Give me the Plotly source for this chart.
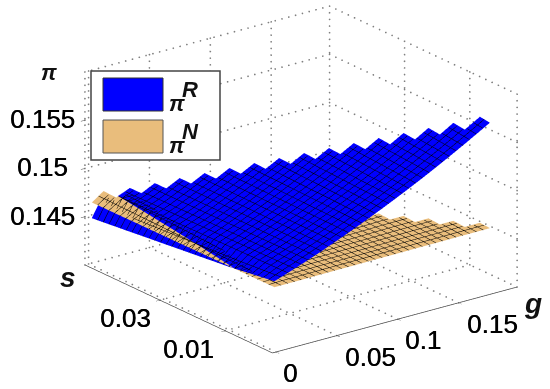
import plotly.graph_objects as go

# axis ranges and ticks
G_RANGE = [-0.003, 0.198]
S_RANGE = [-0.0045, 0.053]
Z_RANGE = [0.14, 0.16]
G_TICKS = [0, 0.05, 0.1, 0.15]
G_LABELS = ["0", "0.05", "0.1", "0.15"]
S_TICKS = [0.01, 0.03]
S_LABELS = ["0.01", "0.03"]
Z_TICKS = [0.145, 0.15, 0.155]
Z_LABELS = ["0.145", "0.15", "0.155"]
Z_GRID = [0.14, 0.145, 0.15, 0.155, 0.16]

G_VALUES = [0, .0110625, .022125, .0331875, .04425, .0553125, .066375, .0774375, .0885,
            .0995625, .110625, .1216875, .13275, .1438125, .154875, .1659375, .177]
S_VALUES = [-.004, -.0005, .003, .0065, .01, .0135, .017, .0205, .024, .0275, .031, .0345,
            .038, .0415, .045, .0485, .052]

# profit, 1e-5 units, one list per g value, running along s
PI_R_BY_G = [
 [14725,14707,14689,14671,14653,14640,14626,14612,14599,14585,14571,14558,14544,14530,14517,14503,14490],
 [14774,14772,14770,14768,14766,14764,14762,14760,14758,14756,14754,14752,14750,14748,14746,14745,14743],
 [14825,14823,14822,14820,14819,14817,14816,14814,14813,14811,14810,14808,14807,14805,14804,14803],
 [14878,14878,14877,14877,14876,14876,14876,14875,14875,14874,14874,14874,14873,14873,14872],
 [14934,14935,14935,14936,14937,14937,14938,14939,14939,14940,14941,14941,14942,14943],
 [14992,14994,14995,14997,14999,15001,15002,15004,15006,15007,15009,15011,15013],
 [15052,15055,15058,15060,15063,15066,15069,15072,15074,15077,15080,15083],
 [15114,15118,15122,15126,15130,15133,15137,15141,15145,15149,15153],
 [15178,15183,15188,15193,15198,15203,15208,15213,15218,15223],
 [15244,15250,15256,15262,15269,15275,15281,15287,15293],
 [15312,15319,15327,15334,15341,15349,15356,15363],
 [15382,15391,15399,15408,15416,15425,15433],
 [15455,15465,15475,15484,15494,15504],
 [15530,15541,15552,15563,15574],
 [15607,15620,15632,15645],
 [15686,15701,15716],
 [15767,15782],
]
PI_N_BY_G = [
 [14663,14662,14662,14661,14661,14660,14659,14659,14658,14657,14657,14656,14656,14655,14654,14654,14653],
 [14664,14669,14675,14680,14686,14691,14696,14702,14707,14713,14718,14723,14729,14734,14740,14745,14750],
 [14664,14670,14675,14681,14686,14692,14697,14703,14709,14714,14720,14725,14731,14736,14742,14748],
 [14665,14671,14676,14682,14687,14693,14699,14704,14710,14716,14721,14727,14733,14738,14744],
 [14666,14672,14678,14683,14689,14695,14701,14706,14712,14718,14724,14729,14735,14741],
 [14667,14673,14679,14684,14690,14696,14702,14708,14713,14719,14725,14731,14737],
 [14667,14673,14679,14685,14691,14698,14704,14710,14716,14722,14728,14734],
 [14668,14674,14681,14687,14693,14700,14706,14712,14719,14725,14731],
 [14669,14675,14682,14688,14695,14701,14708,14714,14721,14727],
 [14669,14676,14683,14690,14697,14704,14711,14718,14725],
 [14670,14677,14685,14692,14699,14707,14714,14721],
 [14671,14679,14687,14695,14703,14711,14719],
 [14671,14679,14688,14696,14704,14712],
 [14672,14680,14688,14696,14704],
 [14673,14681,14689,14697],
 [14673,14681,14689],
 [14674,14682],
]
BLUE = "#0000ff"
TAN = "#e9bd7c"
FONT = "Liberation Sans"
W, H = 550, 389


def grid(columns):
    n = len(S_VALUES)
    return [[(c[j] * 1e-5 if j < len(c) else None) for c in columns] for j in range(n)]


def surface(columns, color):
    mesh = dict(show=True, color="#000000", width=2, highlight=False)
    dg = (G_VALUES[1] - G_VALUES[0]) / 2
    ds = (S_VALUES[1] - S_VALUES[0]) / 2
    return go.Surface(
        x=G_VALUES, y=S_VALUES, z=grid(columns),
        colorscale=[[0, color], [1, color]], showscale=False, hoverinfo="skip",
        lighting=dict(ambient=1, diffuse=0, specular=0, roughness=1, fresnel=0),
        contours=dict(
            x=dict(start=G_VALUES[0], end=G_VALUES[-1], size=dg, **mesh),
            y=dict(start=S_VALUES[0], end=S_VALUES[-1], size=ds, **mesh),
            z=dict(show=False),
        ),
    )


fig = go.Figure()

# dotted box and grid lines, drawn as rows of small dots
gx, gy, gz = [], [], []
def seg(a, b, n):
    for k in range(n + 1):
        gx.append(a[0] + (b[0] - a[0]) * k / n)
        gy.append(a[1] + (b[1] - a[1]) * k / n)
        gz.append(a[2] + (b[2] - a[2]) * k / n)

g0, g1 = G_RANGE
s0, s1 = S_RANGE
z0, z1 = Z_RANGE
for g in G_TICKS + [g0, g1]:
    seg((g, s1, z0), (g, s1, z1), 29)
for s in S_TICKS + [s1, s0]:
    seg((g1, s, z0), (g1, s, z1), 29)
for z in Z_GRID:
    seg((g0, s1, z), (g1, s1, z), 36)
    seg((g1, s0, z), (g1, s1, z), 30)
for g in G_TICKS:
    seg((g, s0, z0), (g, s1, z0), 30)
for s in S_TICKS:
    seg((g0, s, z0), (g1, s, z0), 36)
fig.add_trace(go.Scatter3d(x=gx, y=gy, z=gz, mode="markers", hoverinfo="skip", showlegend=False,
                           marker=dict(color="#808080", size=1, line=dict(width=0))))
fig.add_trace(surface(PI_R_BY_G, BLUE))
fig.add_trace(surface(PI_N_BY_G, TAN))


def axis(rng, vals, line=True):
    return dict(range=rng, tickvals=vals, showticklabels=False, title=dict(text=""),
                showgrid=False, zeroline=False, showbackground=False, showspikes=False,
                showline=line, linecolor="#444444", linewidth=1.5,
                ticks="outside", ticklen=5, tickcolor="#444444")


TICK_FONT = dict(family=FONT, size=26, color="#000000", shadow="0.5px 0 0 #000000")


def tick_notes():
    notes = []
    def note(text, x, y, z, dx, dy):
        notes.append(dict(text=text, x=x, y=y, z=z, xshift=dx, yshift=dy, showarrow=False,
                          xanchor="center", yanchor="middle", font=TICK_FONT))
    for v, t, dx in zip(G_TICKS, G_LABELS, [14, 33, 25, 34]):
        note(t, v, s0, z0, dx, -21)
    for v, t, dx in zip(S_TICKS, S_LABELS, [-37, -35]):
        note(t, g0, v, z0, dx, -18)
    for v, t in zip(Z_TICKS, Z_LABELS):
        note(t, g0, s1, v, -43, 1)
    return notes


fig.update_layout(
    width=W, height=H, margin=dict(l=0, r=0, t=0, b=0), paper_bgcolor="white",
    showlegend=False,
    scene=dict(
        domain=dict(x=[0.095, 1], y=[0.077, 1]),
        xaxis=axis(G_RANGE, G_TICKS),
        yaxis=axis(S_RANGE, S_TICKS),
        zaxis=axis(Z_RANGE, Z_TICKS, line=False),
        aspectmode="manual", aspectratio=dict(x=1.71, y=1.73, z=1.15),
        annotations=tick_notes(),
        camera=dict(projection=dict(type="orthographic"),
                    up=dict(x=0, y=0, z=1), center=dict(x=0, y=0, z=0),
                    eye=dict(x=-1.0, y=-1.32, z=0.63)),
    ),
)


def rect(x0, y0, x1, y1, fill, line, w=1.5):
    fig.add_shape(type="rect", xref="paper", yref="paper", layer="above",
                  x0=x0 / W, x1=x1 / W, y0=1 - y0 / H, y1=1 - y1 / H,
                  fillcolor=fill, line=dict(color=line, width=w))


def label(text, x, y, size, bold=True, italic=True, family=FONT):
    t = text
    if bold:
        t = "<b>" + t + "</b>"
    if italic:
        t = "<i>" + t + "</i>"
    fig.add_annotation(text=t, xref="paper", yref="paper", x=x / W, y=1 - y / H, showarrow=False,
                       xanchor="center", yanchor="middle",
                       font=dict(family=family, size=size, color="#111111"))


rect(91, 71, 220, 160, "white", "#444444")
rect(103, 78, 163, 111, BLUE, "#333333", 1)
rect(103, 120, 163, 153, TAN, "#555555", 1)
label("π", 177, 103, 22)
label("R", 190, 89, 22)
label("π", 177, 146, 22)
label("N", 190, 131, 22)
label("π", 49, 72, 22)
label("s", 68, 277, 28)
label("g", 533, 303, 28)

fig.write_html("out.html", config=dict(displayModeBar=False),
               post_script="document.body.style.margin='0';document.body.style.overflow='hidden';")
